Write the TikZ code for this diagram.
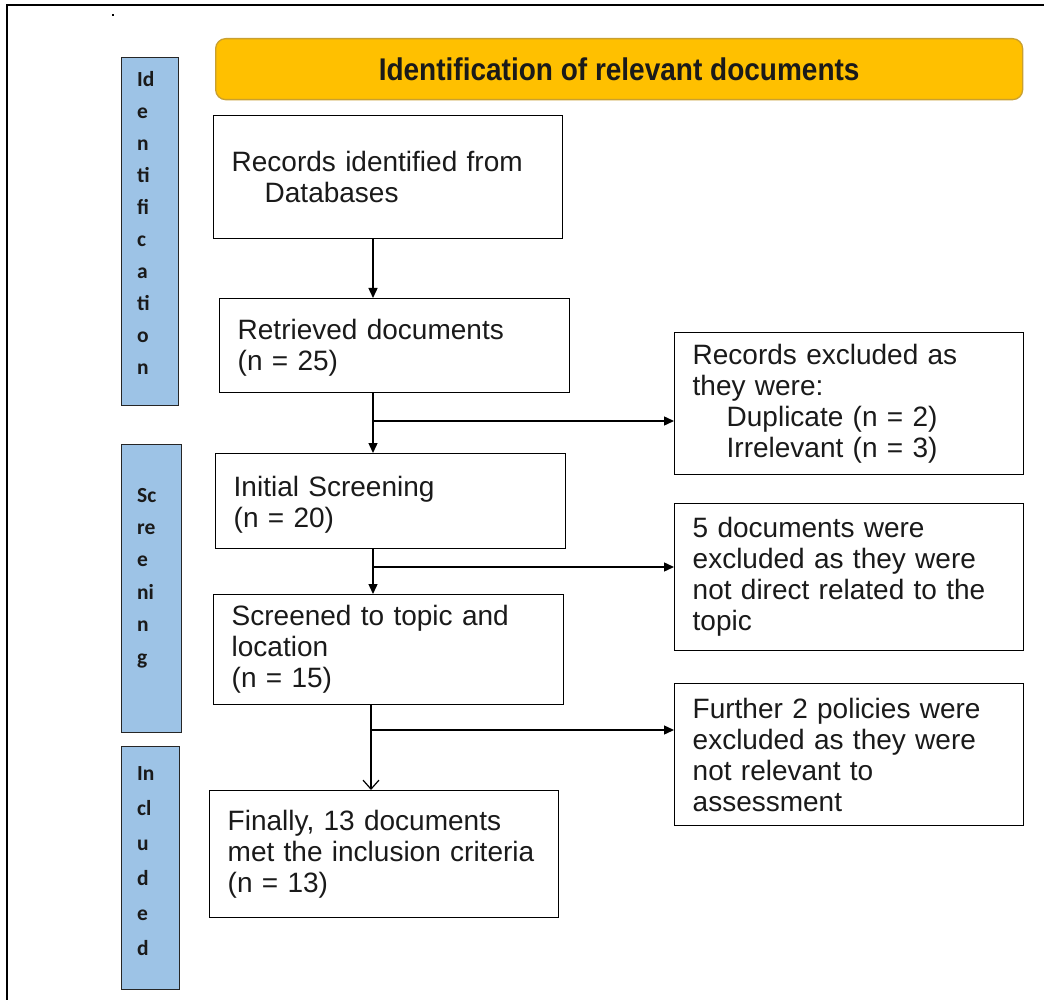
\documentclass[tikz,border=0pt]{standalone}
\usepackage{fontspec}
\setmainfont{Liberation Sans}
\newfontfamily\barfont{Carlito}
\usetikzlibrary{arrows.meta}
\definecolor{hdrfill}{HTML}{FFC000}
\definecolor{hdrdraw}{HTML}{C9A030}
\definecolor{barfill}{HTML}{9DC3E6}
\definecolor{txt}{HTML}{1A1A1A}
\tikzset{
  box/.style={draw=black, line width=1.4pt, fill=white, rectangle, anchor=north west,
    inner xsep=18pt, inner ysep=0pt, align=left, text=txt,
    font=\fontsize{28}{31}\selectfont},
  sidebar/.style={draw=black!85, line width=1.4pt, fill=barfill, rectangle, anchor=north west, inner sep=0pt},
  bartext/.style={anchor=base west, inner sep=0pt, font=\barfont\bfseries\fontsize{21.5}{24}\selectfont, text=txt},
  conn/.style={line width=1.4pt, draw=black},
  arr/.style={conn, -{Triangle[length=10pt,width=9pt]}},
  openarr/.style={conn, -{Straight Barb[length=9pt,width=16pt,line width=1.2pt]}}
}
\begin{document}
\begin{tikzpicture}[x=1pt,y=-1pt]
\useasboundingbox (0,0) rectangle (1044,1000);
% outer frame (cropped)
\draw[line width=2.6pt] (7,1000) -- (7,5) -- (1044,5);
\fill (112,14) rectangle (114,16);
% header
\node[draw=hdrdraw, line width=1.3pt, fill=hdrfill, rounded corners=10pt, anchor=north west,
  minimum width=807pt, minimum height=61pt, inner sep=0pt,
  font=\fontsize{28}{31}\selectfont\bfseries, text=txt] (hdr) at (215,38)
  {\scalebox{1}[1.12]{Identification of relevant documents}};
% side bars
\node[sidebar, minimum width=57pt, minimum height=348pt] (sb1) at (121,57) {};
\node[sidebar, minimum width=60pt, minimum height=288pt] (sb2) at (121,444) {};
\node[sidebar, minimum width=58pt, minimum height=243pt] (sb3) at (121,746) {};
\node[bartext] (sbt1) at (137,87) {\vtop{\baselineskip=31.9pt\hbox{Id}\hbox{e}\hbox{n}\hbox{ti}\hbox{fi}\hbox{c}\hbox{a}\hbox{ti}\hbox{o}\hbox{n}}};
\node[bartext] (sbt2) at (137,502) {\vtop{\baselineskip=32.4pt\hbox{Sc}\hbox{re}\hbox{e}\hbox{ni}\hbox{n}\hbox{g}}};
\node[bartext] (sbt3) at (137,780) {\vtop{\baselineskip=35pt\hbox{In}\hbox{cl}\hbox{u}\hbox{d}\hbox{e}\hbox{d}}};
% main column
\node[box, minimum width=349pt, minimum height=123pt, text width=313pt] (b1) at (213,115)
  {Records identified from\\\hspace*{33pt}Databases};
\node[box, minimum width=350pt, minimum height=94pt, text width=314pt] (b2) at (219,298)
  {\rule{0pt}{24pt}Retrieved documents\\(n = 25)};
\node[box, minimum width=350pt, minimum height=95pt, text width=314pt] (b3) at (215,453)
  {\rule{0pt}{28pt}Initial Screening\\(n = 20)};
\node[box, minimum width=350pt, minimum height=110pt, text width=314pt] (b4) at (213,594)
  {Screened to topic and\\location\\(n = 15)};
\node[box, minimum width=349pt, minimum height=127pt, text width=313pt] (b5) at (209,790)
  {Finally, 13 documents\\met the inclusion criteria\\(n = 13)};
% right column
\node[box, minimum width=349pt, minimum height=142pt, text width=313pt] (r1) at (674,332)
  {Records excluded as\\they were:\\\hspace*{34pt}Duplicate (n = 2)\\\hspace*{34pt}Irrelevant (n = 3)};
\node[box, minimum width=349pt, minimum height=147pt, text width=313pt] (r2) at (674,503)
  {5 documents were\\excluded as they were\\not direct related to the\\topic};
\node[box, minimum width=349pt, minimum height=142pt, text width=313pt] (r3) at (674,683)
  {Further 2 policies were\\excluded as they were\\not relevant to\\assessment};
% connectors
\coordinate (xa) at (373,0);
\coordinate (xb) at (371,0);
\coordinate (j1) at (373,421);
\coordinate (j2) at (373,567);
\coordinate (j3) at (371,730);
\draw[arr] (b1.south -| xa) -- (b2.north -| xa);
\draw[arr] (b2.south -| xa) -- (b3.north -| xa);
\draw[arr] (b3.south -| xa) -- (b4.north -| xa);
\draw[openarr] (b4.south -| xb) -- (b5.north -| xb);
\draw[arr] (j1) -- (j1 -| r1.west);
\draw[arr] (j2) -- (j2 -| r2.west);
\draw[arr] (j3) -- (j3 -| r3.west);
\end{tikzpicture}
\end{document}
